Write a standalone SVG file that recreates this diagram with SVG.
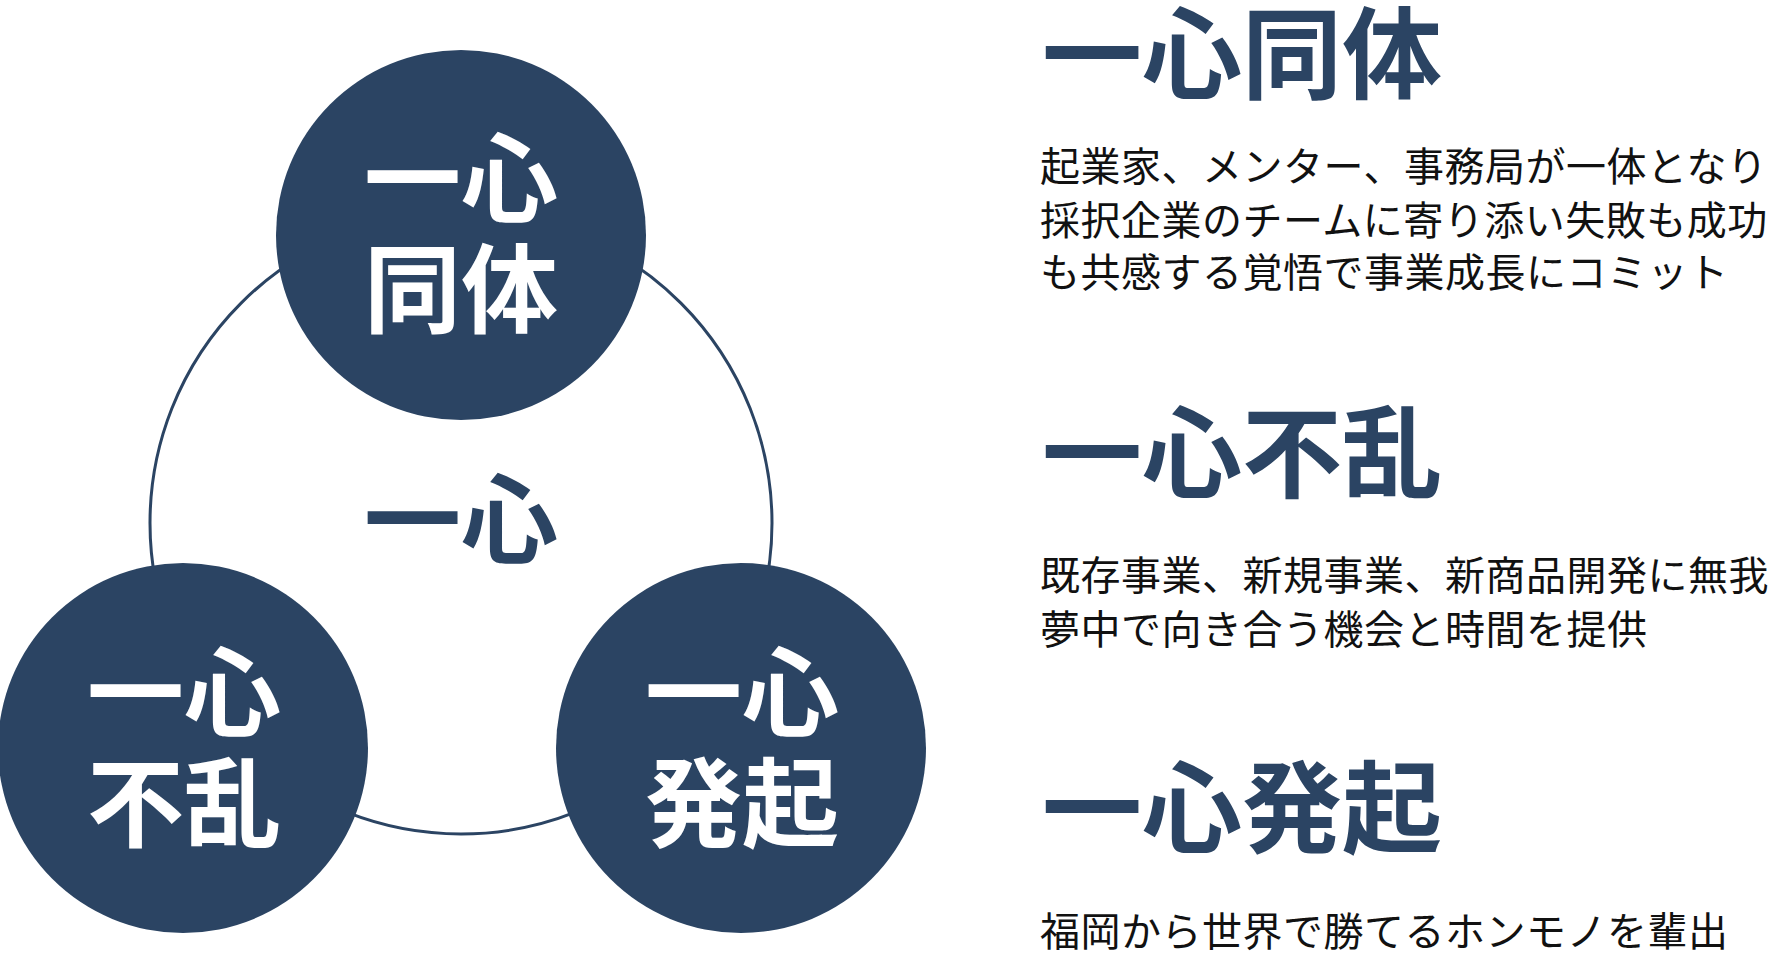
<svg xmlns="http://www.w3.org/2000/svg" width="1768" height="956" viewBox="0 0 1768 956">
<style>
.ring{fill:none;stroke:#2b4463;stroke-width:3}
.node{fill:#2b4463}
.ct{font-family:"Noto Sans CJK JP","Noto Sans CJK SC",sans-serif;font-weight:700;font-size:97px;fill:#ffffff;text-anchor:middle}
.cc{font-family:"Noto Sans CJK JP","Noto Sans CJK SC",sans-serif;font-weight:700;font-size:97px;fill:#2b4463;text-anchor:middle}
.hd{font-family:"Noto Sans CJK JP","Noto Sans CJK SC",sans-serif;font-weight:700;font-size:100px;fill:#2b4463}
.bd{font-family:"Noto Sans CJK JP","Noto Sans CJK SC",sans-serif;font-weight:400;font-size:40px;letter-spacing:0.5px;fill:#111111}
</style>
<rect width="1768" height="956" fill="#ffffff"/>
<g id="connectors">
<circle class="ring" cx="461" cy="523" r="311"/>
</g>
<g id="center">
<text class="cc" x="461" y="555">一心</text>
</g>
<g id="node-doutai">
<circle class="node" cx="461" cy="235" r="185"/>
<text class="ct"><tspan x="461" y="214">一心</tspan><tspan x="461" y="325">同体</tspan></text>
</g>
<g id="node-furan">
<circle class="node" cx="183" cy="748" r="185"/>
<text class="ct"><tspan x="184" y="728">一心</tspan><tspan x="184" y="839">不乱</tspan></text>
</g>
<g id="node-hokki">
<circle class="node" cx="741" cy="748" r="185"/>
<text class="ct"><tspan x="742" y="728">一心</tspan><tspan x="742" y="839">発起</tspan></text>
</g>
<g id="desc-doutai">
<text class="hd" x="1042" y="91">一心同体</text>
<text class="bd" x="1040" y="181">起業家、メンター、事務局が一体となり</text>
<text class="bd" x="1040" y="235">採択企業のチームに寄り添い失敗も成功</text>
<text class="bd" x="1040" y="287">も共感する覚悟で事業成長にコミット</text>
</g>
<g id="desc-furan">
<text class="hd" x="1042" y="490">一心不乱</text>
<text class="bd" x="1040" y="590">既存事業、新規事業、新商品開発に無我</text>
<text class="bd" x="1040" y="644">夢中で向き合う機会と時間を提供</text>
</g>
<g id="desc-hokki">
<text class="hd" x="1042" y="845">一心発起</text>
<text class="bd" x="1040" y="946">福岡から世界で勝てるホンモノを輩出</text>
</g>
</svg>
